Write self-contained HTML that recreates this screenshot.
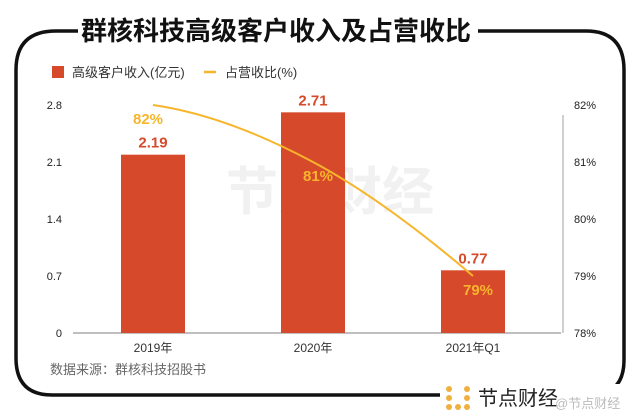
<!DOCTYPE html>
<html><head><meta charset="utf-8"><style>
body{margin:0;background:#fff;width:640px;height:413px;overflow:hidden;font-family:"Liberation Sans","Noto Sans CJK SC",sans-serif}
svg text{font-family:"Liberation Sans","Noto Sans CJK SC",sans-serif}
</style></head><body>
<svg width="640" height="413" viewBox="0 0 640 413">
<path d="M78 31 H56 Q16 31 16 70 V358 Q16 395 52 395 H440 M590 395 Q624 395 624 360 V70 Q624 31 586 31 H478" fill="none" stroke="#111" stroke-width="3.5"/>
<text x="276" y="40" text-anchor="middle" font-size="26" font-weight="bold" fill="#111">群核科技高级客户收入及占营收比</text>
<text x="330" y="210" text-anchor="middle" font-size="52" font-weight="bold" fill="#f1f1f1">节点财经</text>
<rect x="52" y="66" width="12" height="12" fill="#d64a2b"/>
<text x="72" y="77" font-size="13" fill="#333">高级客户收入(亿元)</text>
<line x1="204" y1="72" x2="216" y2="72" stroke="#f7b52c" stroke-width="2.5"/>
<text x="225" y="77" font-size="13" fill="#333">占营收比(%)</text>
<g id="axes"></g><g id="bars"></g><g id="line"></g>
<text x="50" y="374" font-size="13" fill="#666">数据来源：群核科技招股书</text>
<g>
<rect x="440" y="384" width="185" height="29" fill="#fff"/>
<g fill="#f0b040"><circle cx="449" cy="389" r="3"/><circle cx="449" cy="398" r="3"/><circle cx="449" cy="407" r="3"/><circle cx="458" cy="407" r="3"/><circle cx="467" cy="389" r="3"/><circle cx="467" cy="398" r="3"/><circle cx="467" cy="407" r="3"/></g>
<text x="478" y="405" font-size="20" fill="#222">节点财经</text>
<text x="555" y="408" font-size="13" fill="#bbb">@节点财经</text>
</g>
</svg>
<script>
const categories=["2019年","2020年","2021年Q1"];
const revenue=[2.19,2.71,0.77];
const ratio=[82,81,79];
const leftTicks=[0,0.7,1.4,2.1,2.8];
const rightTicks=[78,79,80,81,82];
const NS="http://www.w3.org/2000/svg";
const x0=73,x1=561,yB=333,yT=105;
const bw=160;
const xc=i=>x0+bw*(i+0.5);
const yL=v=>yB-(v/2.8)*(yB-yT);
const yR=v=>yB-((v-78)/4)*(yB-yT);
function el(t,a,p,txt){const e=document.createElementNS(NS,t);for(const k in a)e.setAttribute(k,a[k]);if(txt!=null)e.textContent=txt;document.getElementById(p).appendChild(e);return e;}
leftTicks.forEach(v=>{const e=el("text",{x:62,y:yL(v)+4,"text-anchor":"end","font-size":11,fill:"#222"},"axes",String(v));

});
rightTicks.forEach(v=>{const e=el("text",{x:574,y:yR(v)+4,"font-size":11,fill:"#222"},"axes",v+"%");

});
let ax=el("line",{x1:x0,y1:yB,x2:x1,y2:yB,stroke:"#aaa","stroke-width":1.5},"axes");


let ra=el("line",{x1:563,y1:yT+10,x2:563,y2:yB,stroke:"#888","stroke-width":0.8},"axes");


categories.forEach((c,i)=>{
const t=el("text",{x:xc(i),y:yB+19,"text-anchor":"middle","font-size":12,fill:"#333"},"axes",c);


const b=el("rect",{x:xc(i)-32,y:yL(revenue[i]),width:64,height:yB-yL(revenue[i]),fill:"#d64a2b"},"bars");


const l=el("text",{x:xc(i),y:yL(revenue[i])-7,"text-anchor":"middle","font-size":15,"font-weight":"bold",fill:"#d64a2b"},"bars",revenue[i].toFixed(2));


});
const pts=ratio.map((v,i)=>[xc(i),yR(v)]);
let d="M"+pts[0][0]+" "+pts[0][1];
for(let i=1;i<pts.length;i++){const p=pts[i-1],q=pts[i],dx=(q[0]-p[0])/3;
const s0=i===1?(pts[1][1]-pts[0][1])/(pts[1][0]-pts[0][0])*0.4:(pts[i][1]-pts[i-2][1])/(pts[i][0]-pts[i-2][0]);
const s1=i===pts.length-1?(q[1]-p[1])/(q[0]-p[0])*1.2:(pts[i+1][1]-pts[i-1][1])/(pts[i+1][0]-pts[i-1][0]);
d+=` C${p[0]+dx} ${p[1]+s0*dx} ${q[0]-dx} ${q[1]-s1*dx} ${q[0]} ${q[1]}`;}
const ln=el("path",{d:d,fill:"none",stroke:"#f7b52c","stroke-width":2},"line");


ratio.forEach((v,i)=>{
const t=el("text",{x:xc(i)+(i?5:-5),y:yR(v)+19,"text-anchor":"middle","font-size":15,"font-weight":"bold",fill:"#f7b52c"},"line",v+"%");


});
</script>
</body></html>
